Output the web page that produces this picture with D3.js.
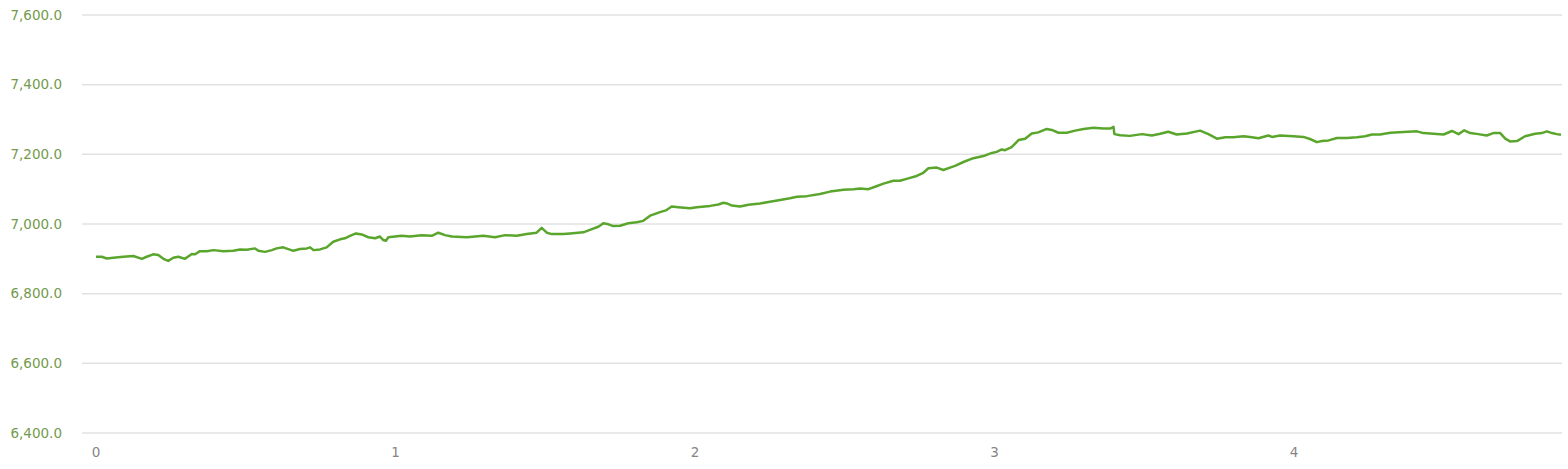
<!DOCTYPE html>
<html>
<head>
<meta charset="utf-8">
<script src="https://cdn.jsdelivr.net/npm/d3@7"></script>
<style>
  body { margin: 0; background: #fff; }
  #container { width: 1568px; height: 469px; }
  .ylab { font-family: "DejaVu Sans", Verdana, sans-serif; font-size: 13.5px; fill: #739a4c; }
  .xlab { font-family: "DejaVu Sans", Verdana, sans-serif; font-size: 13.5px; fill: #858585; }
</style>
</head>
<body>
<div id="container"></div>
<script>
// distance (km) and elevation
const distance = [0.000, 0.019, 0.036, 0.058, 0.091, 0.125, 0.153, 0.169, 0.191, 0.208,
  0.225, 0.241, 0.258, 0.275, 0.297, 0.320, 0.331, 0.347, 0.370, 0.392,
  0.425, 0.458, 0.481, 0.503, 0.531, 0.542, 0.564, 0.587, 0.603, 0.625,
  0.642, 0.659, 0.681, 0.704, 0.715, 0.726, 0.748, 0.770, 0.792, 0.815,
  0.831, 0.848, 0.868, 0.887, 0.909, 0.932, 0.948, 0.959, 0.968, 0.976,
  0.998, 1.020, 1.048, 1.087, 1.121, 1.143, 1.165, 1.188, 1.238, 1.293,
  1.332, 1.366, 1.405, 1.438, 1.471, 1.488, 1.505, 1.522, 1.560, 1.583,
  1.627, 1.649, 1.677, 1.694, 1.711, 1.727, 1.750, 1.777, 1.805, 1.827,
  1.850, 1.883, 1.905, 1.922, 1.944, 1.983, 2.006, 2.050, 2.078, 2.095,
  2.106, 2.123, 2.150, 2.178, 2.217, 2.250, 2.284, 2.317, 2.340, 2.373,
  2.417, 2.451, 2.495, 2.529, 2.551, 2.579, 2.601, 2.629, 2.662, 2.684,
  2.712, 2.740, 2.762, 2.779, 2.807, 2.829, 2.851, 2.868, 2.896, 2.929,
  2.963, 2.991, 3.007, 3.024, 3.035, 3.057, 3.080, 3.102, 3.124, 3.146,
  3.174, 3.191, 3.213, 3.241, 3.269, 3.297, 3.330, 3.363, 3.386, 3.397,
  3.400, 3.419, 3.452, 3.492, 3.525, 3.553, 3.580, 3.608, 3.642, 3.686,
  3.714, 3.742, 3.770, 3.797, 3.831, 3.853, 3.881, 3.914, 3.926, 3.953,
  3.998, 4.031, 4.053, 4.076, 4.093, 4.115, 4.143, 4.176, 4.210, 4.237,
  4.260, 4.287, 4.321, 4.365, 4.410, 4.432, 4.465, 4.499, 4.527, 4.549,
  4.568, 4.588, 4.615, 4.643, 4.665, 4.688, 4.705, 4.721, 4.744, 4.771,
  4.805, 4.827, 4.844, 4.861, 4.877, 4.891];

const elevation = [6906, 6906, 6901, 6903, 6906, 6908, 6900, 6906, 6913, 6911,
  6900, 6894, 6903, 6906, 6900, 6914, 6913, 6922, 6922, 6925,
  6922, 6923, 6927, 6926, 6930, 6923, 6920, 6925, 6930, 6933,
  6928, 6923, 6928, 6930, 6933, 6925, 6927, 6933, 6949, 6956,
  6959, 6966, 6973, 6970, 6962, 6959, 6964, 6954, 6952, 6962,
  6964, 6966, 6964, 6968, 6966, 6975, 6968, 6964, 6962, 6966,
  6962, 6968, 6966, 6971, 6975, 6989, 6975, 6971, 6971, 6973,
  6976, 6983, 6992, 7002, 6999, 6994, 6995, 7002, 7005, 7009,
  7024, 7034, 7040, 7050, 7048, 7045, 7048, 7052, 7056, 7061,
  7059, 7053, 7050, 7055, 7059, 7064, 7069, 7074, 7078, 7080,
  7086, 7093, 7098, 7100, 7102, 7100, 7107, 7116, 7124, 7124,
  7131, 7138, 7147, 7160, 7162, 7155, 7162, 7167, 7178, 7189,
  7195, 7204, 7207, 7214, 7212, 7221, 7241, 7245, 7260, 7263,
  7273, 7270, 7262, 7262, 7268, 7273, 7276, 7274, 7274, 7279,
  7258, 7255, 7253, 7258, 7254, 7259, 7265, 7257, 7260, 7268,
  7258, 7245, 7249, 7249, 7252, 7250, 7246, 7254, 7250, 7254,
  7252, 7250, 7244, 7235, 7238, 7240, 7247, 7247, 7249, 7252,
  7257, 7257, 7262, 7264, 7266, 7261, 7259, 7257, 7267, 7258,
  7269, 7261, 7258, 7254, 7261, 7261, 7245, 7237, 7238, 7252,
  7259, 7261, 7266, 7261, 7258, 7256];

const yTicks = [6400, 6600, 6800, 7000, 7200, 7400, 7600];
const xTicks = [0, 1, 2, 3, 4];

const width = 1568, height = 469;
const gridLeft = 82, gridRight = 1562;

const svg = d3.select('#container')
  .append('svg')
    .attr('width', width)
    .attr('height', height);

const x = d3.scaleLinear()
  .domain([0, d3.max(distance)])
  .range([96, 1561]);

const y = d3.scaleLinear()
  .domain([6400, 7600])
  .range([433, 15]);

const fmt = d3.format(',.1f');

// horizontal grid
svg.append('g')
  .selectAll('line')
  .data(yTicks)
  .join('line')
    .attr('x1', gridLeft)
    .attr('x2', gridRight)
    .attr('y1', d => y(d))
    .attr('y2', d => y(d))
    .attr('stroke', '#e2e2e2')
    .attr('stroke-width', 1.5);

svg.append('g')
  .selectAll('text')
  .data(yTicks)
  .join('text')
    .attr('class', 'ylab')
    .attr('x', 62)
    .attr('y', d => y(d))
    .attr('dy', '0.35em')
    .attr('text-anchor', 'end')
    .text(d => fmt(d));

svg.append('g')
  .selectAll('text')
  .data(xTicks)
  .join('text')
    .attr('class', 'xlab')
    .attr('x', d => x(d))
    .attr('y', 457)
    .attr('text-anchor', 'middle')
    .text(d => d);

const points = distance.map((d, i) => [d, elevation[i]]);

svg.append('path')
  .datum(points)
  .attr('fill', 'none')
  .attr('stroke', '#5aa62d')
  .attr('stroke-width', 2.5)
  .attr('stroke-linejoin', 'round')
  .attr('d', d3.line().x(d => x(d[0])).y(d => y(d[1])));
</script>
</body>
</html>
